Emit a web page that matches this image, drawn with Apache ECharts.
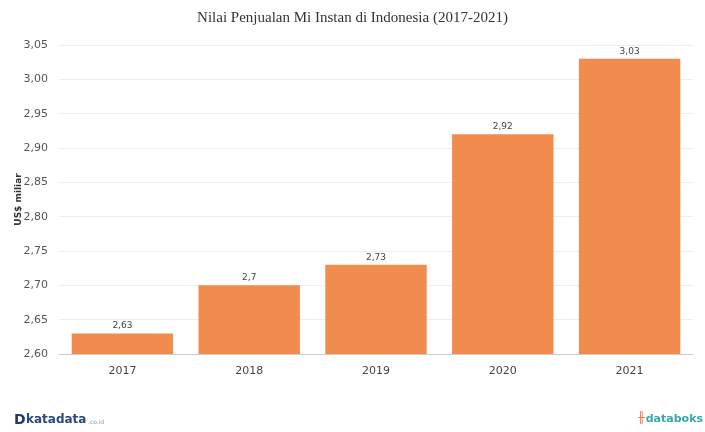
<!DOCTYPE html>
<html><head><meta charset="utf-8">
<script src="https://cdn.jsdelivr.net/npm/echarts@6/dist/echarts.min.js"></script>
<style>html,body{margin:0;padding:0;background:#fff}#c{width:705px;height:432px}</style>
</head><body><div id="c"></div>
<script>
const categories = ['2017','2018','2019','2020','2021'];
const values = [2.63, 2.70, 2.73, 2.92, 3.03];
const valueLabels = ['2,63','2,7','2,73','2,92','3,03'];
const chart = echarts.init(document.getElementById('c'));
chart.setOption({
  animation: false,
  title: {text: 'Nilai Penjualan Mi Instan di Indonesia (2017-2021)', left: 'center', top: 6,
    textStyle: {fontFamily: 'Liberation Serif', fontWeight: 'normal', fontSize: 15, color: '#333'}},
  grid: {left: 59, right: 12, top: 45, bottom: 78, outerBoundsMode: 'none', containLabel: false},
  xAxis: {type: 'category', data: categories,
    axisLine: {lineStyle: {color: '#ccc'}},
    axisTick: {alignWithLabel: true, length: 5, lineStyle: {color: '#ccc'}},
    axisLabel: {color: '#444', fontFamily: 'DejaVu Sans', fontSize: 11, margin: 12}},
  yAxis: {type: 'value', min: 2.60, max: 3.05, interval: 0.05,
    name: 'US$ miliar', nameLocation: 'middle', nameGap: 36, nameRotate: 90, nameMoveOverlap: false,
    nameTextStyle: {fontFamily: 'DejaVu Sans', fontWeight: 'bold', fontSize: 9, color: '#333'},
    axisLabel: {color: '#555', fontFamily: 'DejaVu Sans', fontSize: 11, margin: 11,
      formatter: v => v.toFixed(2).replace('.', ',')},
    splitLine: {lineStyle: {color: '#eee'}}},
  series: [{type: 'bar', data: values, barCategoryGap: '20%',
    itemStyle: {color: '#F28C4E'},
    label: {show: true, position: 'top', distance: 3, fontFamily: 'DejaVu Sans', fontSize: 9, color: '#444',
      formatter: p => valueLabels[p.dataIndex]}}],
  graphic: [
    {type: 'text', left: 14, top: 413, style: {text: 'D', font: 'bold 14px "DejaVu Sans"', fill: '#1f3b6e'}},
    {type: 'text', left: 26, top: 414, style: {text: 'katadata', font: 'bold 12px "DejaVu Sans"', fill: '#2a4a7e'}},
    {type: 'text', left: 88, top: 419, style: {text: '.co.id', font: '6px "DejaVu Sans"', fill: '#8899bb'}},
    {type: 'text', left: 638, top: 413, style: {text: '╫', font: 'bold 11px "DejaVu Sans"', fill: '#e8784a'}},
    {type: 'text', right: 2, top: 414, style: {text: 'databoks', font: 'bold 11px "DejaVu Sans"', fill: '#3aa8a8'}}
  ]
});
</script></body></html>
